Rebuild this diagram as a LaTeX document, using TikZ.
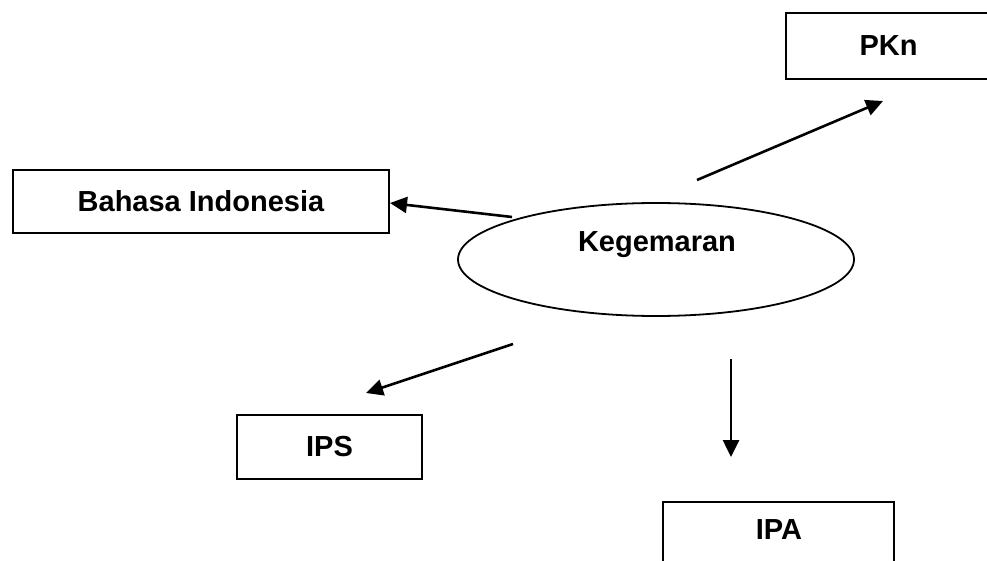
\documentclass[tikz,border=0pt]{standalone}
\usepackage{fontspec}
\setmainfont{Liberation Sans}
\usetikzlibrary{arrows.meta,shapes.geometric}
\begin{document}
\begin{tikzpicture}[x=1pt,y=-1pt,
  txt/.style={font=\fontsize{29}{34}\selectfont\bfseries},
  box/.style={draw,line width=2pt,inner sep=0pt,txt},
  lbl/.style={inner sep=0pt,txt},
  arr/.style={line width=2.6pt,-{Triangle[length=17pt,width=16pt]}}]
\useasboundingbox (0,0) rectangle (987,561);
% boxes
\node[box,minimum width=206pt,minimum height=66pt] (pkn) at (888.5,46) {PKn};
\node[box,minimum width=376pt,minimum height=63pt] (bi) at (201,201.5) {Bahasa Indonesia};
\node[box,minimum width=185pt,minimum height=64pt] (ips) at (329.5,447) {IPS};
\node[box,minimum width=231pt,minimum height=110pt] (ipa) at (778.5,557) {};
\node[lbl] (ipat) at (779,530) {IPA};
% ellipse
\node[draw,ellipse,line width=1.8pt,minimum width=396pt,minimum height=113pt,inner sep=0pt] (k) at (656,259.5) {};
\node[lbl] (kt) at (657,245) {Kegemaran};
% connector ends
\coordinate (a1) at (697,180);
\coordinate (a2) at (883,101);
\coordinate (b1) at (512,217);
\coordinate (b2) at (390,203);
\coordinate (c1) at (513,344);
\coordinate (c2) at (366,393);
\coordinate (d1) at (731,359);
\coordinate (d2) at (731,457);
\draw[arr] (a1) -- (a2);
\draw[arr] (b1) -- (b2);
\draw[arr] (c1) -- (c2);
\draw[arr] (d1) -- (d2);
\end{tikzpicture}
\end{document}
